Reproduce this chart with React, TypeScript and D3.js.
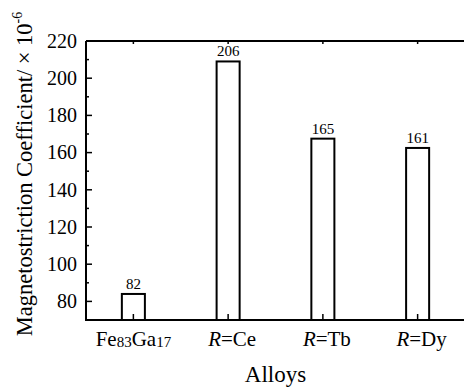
import React, { useEffect, useRef } from "react";
import * as d3 from "d3";

const categories = ["Fe", "Ce", "Tb", "Dy"];
const barValues = [84, 209, 167.5, 162.5];
const valueLabels = ["82", "206", "165", "161"];
const yTicks = [80, 100, 120, 140, 160, 180, 200, 220];
const yMinorTicks = [70, 90, 110, 130, 150, 170, 190, 210];

const FONT = "'Liberation Serif', 'Times New Roman', serif";

const App = () => {
  const ref = useRef<SVGSVGElement | null>(null);

  useEffect(() => {
    const width = 464;
    const height = 388;
    const margin = { top: 41, right: -1, bottom: 68, left: 86 };

    const svg = d3.select(ref.current);
    svg.selectAll("*").remove();

    const x = d3
      .scaleBand()
      .domain(categories)
      .range([margin.left, width - margin.right])
      .paddingInner(0.757)
      .paddingOuter(0.3785);

    const y = d3
      .scaleLinear()
      .domain([70, 220])
      .range([height - margin.bottom, margin.top]);

    const g = svg.append("g");

    // bars
    g.selectAll(".bar")
      .data(barValues)
      .enter()
      .append("rect")
      .attr("class", "bar")
      .attr("x", (d, i) => x(categories[i]) as number)
      .attr("y", (d) => y(d))
      .attr("width", x.bandwidth())
      .attr("height", (d) => y(70) - y(d))
      .attr("fill", "white")
      .attr("stroke", "black")
      .attr("stroke-width", 2);

    // value labels
    g.selectAll(".val")
      .data(barValues)
      .enter()
      .append("text")
      .attr("x", (d, i) => (x(categories[i]) as number) + x.bandwidth() / 2)
      .attr("y", (d) => y(d) - 5)
      .attr("text-anchor", "middle")
      .attr("font-family", FONT)
      .attr("font-size", 15)
      .text((d, i) => valueLabels[i]);

    // frame
    const x0 = margin.left;
    const x1 = width - margin.right;
    const yTop = y(220);
    const yBot = y(70);
    g.append("path")
      .attr("d", `M${x0},${yTop}H${x1 + 5}M${x0},${yTop}V${yBot}H${x1 + 5}`)
      .attr("fill", "none")
      .attr("stroke", "black")
      .attr("stroke-width", 2);

    // y ticks (inward)
    g.selectAll(".ytick")
      .data(yTicks)
      .enter()
      .append("line")
      .attr("x1", x0)
      .attr("x2", x0 + 6)
      .attr("y1", (d) => y(d))
      .attr("y2", (d) => y(d))
      .attr("stroke", "black")
      .attr("stroke-width", 1.5);

    g.selectAll(".yminor")
      .data(yMinorTicks)
      .enter()
      .append("line")
      .attr("x1", x0)
      .attr("x2", x0 + 3)
      .attr("y1", (d) => y(d))
      .attr("y2", (d) => y(d))
      .attr("stroke", "black")
      .attr("stroke-width", 1.5);

    g.selectAll(".ylab")
      .data(yTicks)
      .enter()
      .append("text")
      .attr("x", x0 - 9)
      .attr("y", (d) => y(d))
      .attr("dy", "0.34em")
      .attr("text-anchor", "end")
      .attr("font-family", FONT)
      .attr("font-size", 20)
      .text((d) => d);

    // x ticks, bottom and top
    g.selectAll(".xtick")
      .data(categories)
      .enter()
      .append("line")
      .attr("x1", (d) => (x(d) as number) + x.bandwidth() / 2)
      .attr("x2", (d) => (x(d) as number) + x.bandwidth() / 2)
      .attr("y1", yBot)
      .attr("y2", yBot - 6)
      .attr("stroke", "black")
      .attr("stroke-width", 1.5);

    g.selectAll(".xtickTop")
      .data(categories)
      .enter()
      .append("line")
      .attr("x1", (d) => (x(d) as number) + x.bandwidth() / 2)
      .attr("x2", (d) => (x(d) as number) + x.bandwidth() / 2)
      .attr("y1", yTop)
      .attr("y2", yTop + 3)
      .attr("stroke", "black")
      .attr("stroke-width", 1.5);

    // x labels
    const xl = g
      .selectAll(".xlab")
      .data(categories)
      .enter()
      .append("text")
      .attr("x", (d) => (x(d) as number) + x.bandwidth() / 2 + (d === "Fe" ? 0 : 4))
      .attr("y", yBot + 26)
      .attr("text-anchor", "middle")
      .attr("font-family", FONT)
      .attr("font-size", 21);

    xl.each(function (d) {
      const t = d3.select(this);
      if (d === "Fe") {
        t.append("tspan").text("Fe");
        t.append("tspan").attr("font-size", 15).attr("dy", 1).text("83");
        t.append("tspan").attr("dy", -1).text("Ga");
        t.append("tspan").attr("font-size", 15).attr("dy", 1).text("17");
      } else {
        t.append("tspan").attr("font-style", "italic").text("R");
        t.append("tspan").text("=" + d);
      }
    });

    // axis titles
    svg
      .append("text")
      .attr("x", (x0 + x1) / 2)
      .attr("y", 382)
      .attr("text-anchor", "middle")
      .attr("font-family", FONT)
      .attr("font-size", 23)
      .text("Alloys");

    const yl = svg
      .append("text")
      .attr("transform", `translate(32,174) rotate(-90)`)
      .attr("text-anchor", "middle")
      .attr("font-family", FONT)
      .attr("font-size", 22.5);
    yl.append("tspan").text("Magnetostriction Coefficient/ \u00d7 10");
    yl.append("tspan").attr("font-size", 14).attr("dy", -10).text("-6");

    return () => {
      svg.selectAll("*").remove();
    };
  }, []);

  return (
    <svg
      ref={ref}
      width={464}
      height={388}
      style={{ position: "absolute", left: 0, top: 0, background: "white" }}
    />
  );
};

export default App;
